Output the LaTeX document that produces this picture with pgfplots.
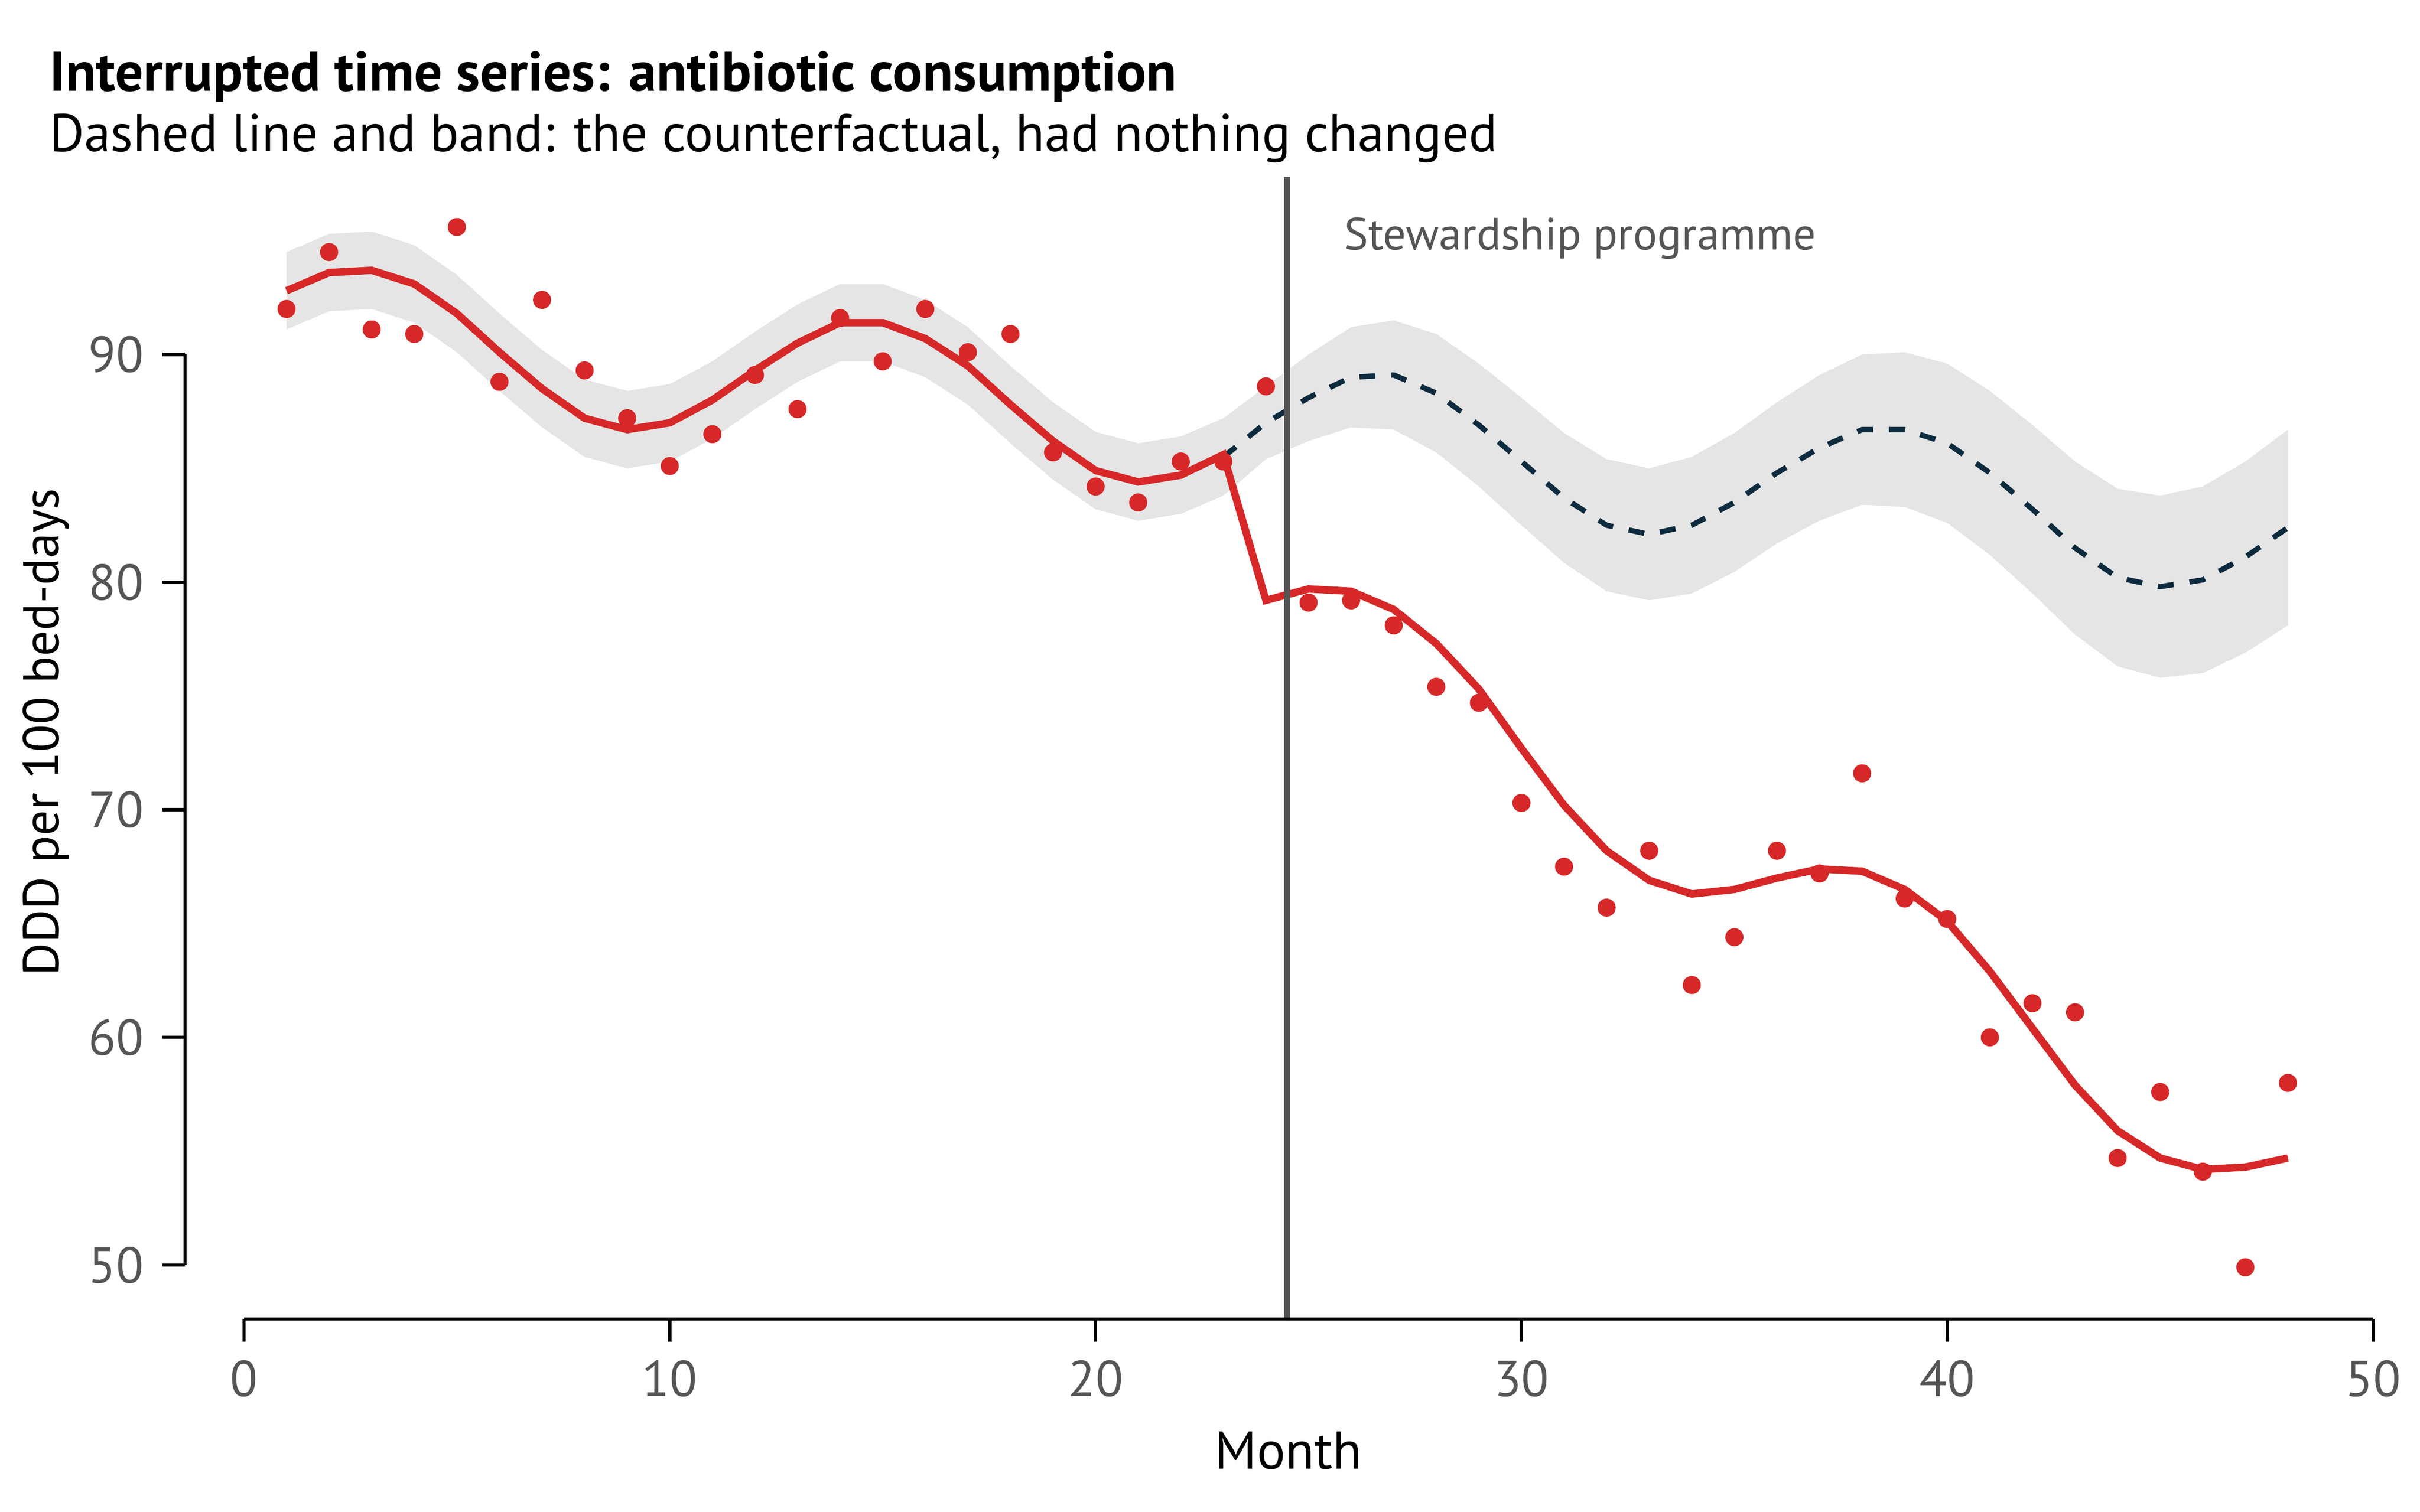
\documentclass[border=0pt]{standalone}
\usepackage{pgfplots}
\pgfplotsset{compat=1.18}
\usepackage{fontspec}
\setmainfont{PT Sans}
\definecolor{myred}{RGB}{214,40,40}
\definecolor{mydark}{RGB}{13,43,62}
\definecolor{tickgray}{RGB}{85,85,85}
\begin{document}
\begin{tikzpicture}
\path[use as bounding box] (-1.224,-1.275) rectangle (14.77,8.72);
\begin{axis}[at={(0,0)},anchor=south west,
  scale only axis, width=14.46cm, height=7.55cm,
  xmin=-1.38, xmax=50, ymin=47.63, ymax=97.8,
  axis line style={draw=none},
  xtick={0,10,20,30,40,50}, ytick={50,60,70,80,90},
  xtick pos=bottom, ytick pos=left, tick align=outside,
  major tick length=0.15cm, tick style={black, line width=0.6pt},
  ticklabel style={font=\fontsize{9.5}{10}\selectfont, text=tickgray},
  /pgf/number format/assume math mode=true,
  clip=false]
\addplot[fill=black!10, draw=none] coordinates {
(1,94.5)(2,95.3)(3,95.4)(4,94.8)(5,93.5)(6,91.8)(7,90.2)(8,88.9)(9,88.4)(10,88.7)(11,89.7)(12,91.0)(13,92.2)(14,93.1)(15,93.1)(16,92.4)(17,91.2)(18,89.5)(19,87.9)(20,86.6)(21,86.1)(22,86.4)(23,87.2)(24,88.6)(25,90.0)(26,91.2)(27,91.5)(28,90.9)(29,89.6)(30,88.1)(31,86.55)(32,85.4)(33,85.0)(34,85.5)(35,86.55)(36,87.9)(37,89.1)(38,90.0)(39,90.1)(40,89.6)(41,88.4)(42,86.9)(43,85.3)(44,84.1)(45,83.8)(46,84.2)(47,85.3)(48,86.7)
(48,78.1)(47,76.9)(46,76.0)(45,75.8)(44,76.3)(43,77.7)(42,79.5)(41,81.2)(40,82.6)(39,83.3)(38,83.4)(37,82.7)(36,81.7)(35,80.45)(34,79.5)(33,79.2)(32,79.6)(31,80.85)(30,82.5)(29,84.2)(28,85.7)(27,86.7)(26,86.8)(25,86.2)(24,85.4)(23,83.8)(22,83.0)(21,82.7)(20,83.2)(19,84.5)(18,86.1)(17,87.8)(16,89.0)(15,89.7)(14,89.7)(13,88.8)(12,87.6)(11,86.3)(10,85.3)(9,85.0)(8,85.5)(7,86.8)(6,88.4)(5,90.1)(4,91.4)(3,92.0)(2,91.9)(1,91.1)} --cycle;
\addplot[mydark, dashed, line width=1pt] coordinates {
(23,85.5)(24,87.0)(25,88.1)(26,89.0)(27,89.1)(28,88.3)(29,86.9)(30,85.3)(31,83.7)(32,82.5)(33,82.1)(34,82.5)(35,83.5)(36,84.8)(37,85.9)(38,86.7)(39,86.7)(40,86.1)(41,84.8)(42,83.2)(43,81.5)(44,80.2)(45,79.8)(46,80.1)(47,81.1)(48,82.4)};
\addplot[myred, line width=1.4pt] coordinates {
(1,92.8)(2,93.6)(3,93.7)(4,93.1)(5,91.8)(6,90.1)(7,88.5)(8,87.2)(9,86.7)(10,87.0)(11,88.0)(12,89.3)(13,90.5)(14,91.4)(15,91.4)(16,90.7)(17,89.5)(18,87.8)(19,86.2)(20,84.9)(21,84.4)(22,84.7)(23,85.6)(24,79.2)(25,79.7)(26,79.6)(27,78.8)(28,77.3)(29,75.3)(30,72.7)(31,70.2)(32,68.2)(33,66.9)(34,66.3)(35,66.5)(36,67.0)(37,67.4)(38,67.3)(39,66.5)(40,65.1)(41,62.9)(42,60.4)(43,57.9)(44,55.9)(45,54.7)(46,54.2)(47,54.3)(48,54.7)};
\addplot[only marks, mark=*, mark size=1.5pt, myred] coordinates {
(1,92.0)(2,94.5)(3,91.1)(4,90.9)(5,95.6)(6,88.8)(7,92.4)(8,89.3)(9,87.2)(10,85.1)(11,86.5)(12,89.1)(13,87.6)(14,91.6)(15,89.7)(16,92.0)(17,90.1)(18,90.9)(19,85.7)(20,84.2)(21,83.5)(22,85.3)(23,85.3)(24,88.6)(25,79.1)(26,79.2)(27,78.1)(28,75.4)(29,74.7)(30,70.3)(31,67.5)(32,65.7)(33,68.2)(34,62.3)(35,64.4)(36,68.2)(37,67.2)(38,71.6)(39,66.1)(40,65.2)(41,60.0)(42,61.5)(43,61.1)(44,54.7)(45,57.6)(46,54.1)(47,49.9)(48,58.0)};
\addplot[tickgray, line width=1.1pt] coordinates {(24.5,47.63)(24.5,97.8)};
\draw[line width=0.6pt] (axis cs:-1.38,50) -- (axis cs:-1.38,90);
\draw[line width=0.6pt] (axis cs:0,47.63) -- (axis cs:50,47.63);
\node[anchor=west, text=tickgray, font=\fontsize{8.5}{9}\selectfont] at (axis cs:25.4,95.1) {Stewardship programme};
\end{axis}
\node[anchor=base west, font=\bfseries\fontsize{10.5}{12}\selectfont] at (-1.02,8.12) {Interrupted time series: antibiotic consumption};
\node[anchor=base west, font=\fontsize{10}{12}\selectfont] at (-1.02,7.72) {Dashed line and band: the counterfactual, had nothing changed};
\node[rotate=90, font=\fontsize{9.5}{11}\selectfont] at (-0.92,3.88) {DDD per 100 bed-days};
\node[font=\fontsize{10}{11}\selectfont] at (7.29,-0.87) {Month};
\end{tikzpicture}
\end{document}
